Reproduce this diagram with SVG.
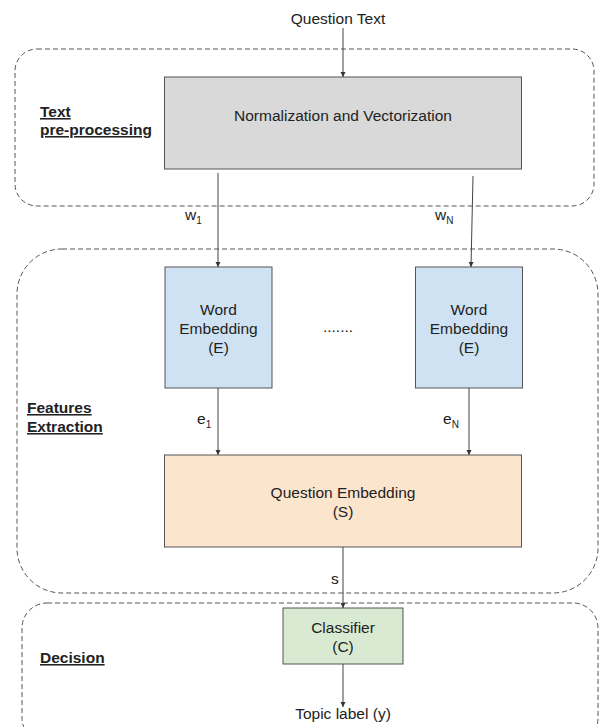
<svg xmlns="http://www.w3.org/2000/svg" width="599" height="727" viewBox="0 0 599 727">
<style>
text{font-family:"Liberation Sans",Arial,sans-serif;font-size:15.5px;fill:#222}
.c{text-anchor:middle}
.lbl{font-weight:bold;text-decoration:underline}
.grp{fill:none;stroke:#555;stroke-width:1;stroke-dasharray:5,3}
.box{stroke:#555;stroke-width:1}
.sub{font-size:10px}
.conn line{stroke:#444;stroke-width:1}
</style>
<defs>
<marker id="ah" markerWidth="6" markerHeight="6" refX="5" refY="3" orient="auto" markerUnits="userSpaceOnUse">
<path d="M0,0.5 L5,3 L0,5.5 Z" fill="#333"/>
</marker>
</defs>
<rect width="599" height="727" fill="#fff"/>

<g id="group-preprocessing">
<rect class="grp" x="15" y="49" width="579" height="157" rx="22" ry="22"/>
<text class="lbl" x="40" y="117">Text</text>
<text class="lbl" x="40" y="135">pre-processing</text>
</g>
<g id="group-features">
<rect class="grp" x="17" y="249" width="581" height="344" rx="45" ry="45"/>
<text class="lbl" x="27" y="413">Features</text>
<text class="lbl" x="27" y="432">Extraction</text>
</g>
<g id="group-decision">
<rect class="grp" x="22" y="603" width="576" height="140" rx="25" ry="25"/>
<text class="lbl" x="40" y="663">Decision</text>
</g>

<g id="question-text">
<text class="c" x="338" y="24">Question Text</text>
</g>
<g id="normalization">
<rect class="box" x="164.5" y="77" width="357" height="92" fill="#d9d9d9"/>
<text class="c" x="343" y="121">Normalization and Vectorization</text>
</g>
<g id="word-embedding-1">
<rect class="box" x="165" y="267" width="107" height="121" fill="#cfe2f3"/>
<text class="c" x="218.5" y="315">Word</text>
<text class="c" x="218.5" y="334">Embedding</text>
<text class="c" x="218.5" y="353">(E)</text>
</g>
<g id="ellipsis">
<text class="c" x="338" y="332">.......</text>
</g>
<g id="word-embedding-n">
<rect class="box" x="415.5" y="267" width="107" height="121" fill="#cfe2f3"/>
<text class="c" x="469" y="315">Word</text>
<text class="c" x="469" y="334">Embedding</text>
<text class="c" x="469" y="353">(E)</text>
</g>
<g id="question-embedding">
<rect class="box" x="164.5" y="455" width="357" height="92" fill="#fce5cd"/>
<text class="c" x="343" y="498">Question Embedding</text>
<text class="c" x="343" y="517">(S)</text>
</g>
<g id="classifier">
<rect class="box" x="283" y="608" width="120" height="56" fill="#d9ead3"/>
<text class="c" x="343" y="633">Classifier</text>
<text class="c" x="343" y="652">(C)</text>
</g>
<g id="topic-label">
<text class="c" x="343" y="719">Topic label (y)</text>
</g>

<g id="connectors" class="conn">
<line x1="343" y1="28" x2="343" y2="77" marker-end="url(#ah)"/>
<line x1="218" y1="173" x2="218" y2="267" marker-end="url(#ah)"/>
<line x1="473" y1="176" x2="471" y2="267" marker-end="url(#ah)"/>
<line x1="218" y1="388" x2="218" y2="455" marker-end="url(#ah)"/>
<line x1="469" y1="388" x2="469" y2="455" marker-end="url(#ah)"/>
<line x1="343" y1="547" x2="343" y2="608" marker-end="url(#ah)"/>
<line x1="343" y1="664" x2="343" y2="707" marker-end="url(#ah)"/>
<text x="185" y="220">w<tspan class="sub" dy="4">1</tspan></text>
<text x="435" y="220">w<tspan class="sub" dy="4">N</tspan></text>
<text x="197" y="424">e<tspan class="sub" dy="4">1</tspan></text>
<text x="443" y="424">e<tspan class="sub" dy="4">N</tspan></text>
<text x="331" y="584">s</text>
</g>
</svg>
